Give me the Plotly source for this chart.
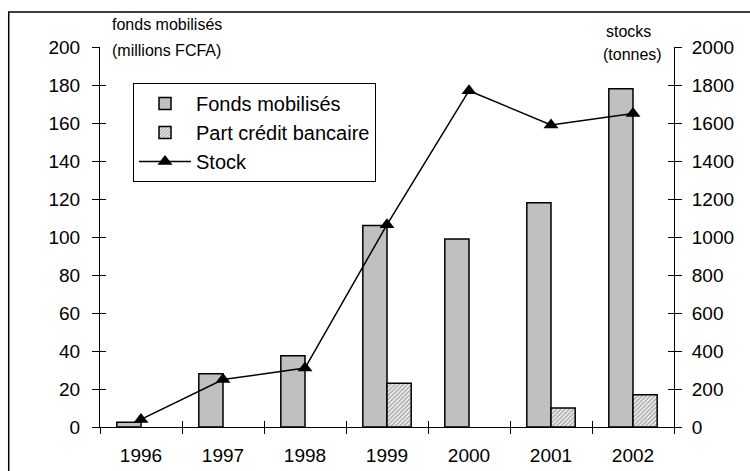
import plotly.graph_objects as go

years = ["1996", "1997", "1998", "1999", "2000", "2001", "2002"]
fonds = [2.5, 28, 37.5, 106, 99, 118, 178]
credit = [None, None, None, 23, None, 10, 17]
stock = [40, 250, 310, 1065, 1770, 1590, 1650]

left_ticks = list(range(0, 201, 20))
right_ticks = list(range(0, 2001, 200))

FONT = "Liberation Sans, Arial, sans-serif"

fig = go.Figure()
fig.add_trace(go.Bar(
    x=years, y=fonds, name="Fonds mobilisés",
    marker=dict(color="#c0c0c0", line=dict(color="#000000", width=1.5)),
))
fig.add_trace(go.Bar(
    x=years, y=credit, name="Part crédit bancaire",
    marker=dict(color="#ffffff", line=dict(color="#000000", width=1.5),
                pattern=dict(shape="/", fgcolor="#606060", bgcolor="#ffffff",
                             size=3, solidity=0.6)),
))
fig.add_trace(go.Scatter(
    x=years, y=stock, name="Stock", yaxis="y2", mode="lines+markers",
    line=dict(color="#000000", width=1.5),
    marker=dict(symbol="triangle-up", size=13, color="#000000"),
))

axis_common = dict(showgrid=False, zeroline=False, linecolor="#000000", linewidth=1,
                   tickcolor="#000000", tickwidth=1, automargin=False,
                   tickfont=dict(family=FONT, size=19, color="#000000"))

fig.update_layout(
    width=750, height=471,
    margin=dict(l=100, r=76, t=47, b=44),
    paper_bgcolor="#ffffff", plot_bgcolor="#ffffff",
    barmode="group", bargap=0.41, bargroupgap=0,
    showlegend=True,
    legend=dict(x=0.0575, y=0.905, xanchor="left", yanchor="top",
                bgcolor="#ffffff", bordercolor="#000000", borderwidth=1,
                font=dict(family=FONT, size=20, color="#000000"),
                tracegroupgap=0, itemwidth=52),
    xaxis=dict(**axis_common, type="category", categoryorder="array", categoryarray=years,
               tickson="boundaries", ticks="outside", ticklen=6, showline=True,
               ticklabelstandoff=11),
    xaxis2=dict(overlaying="x", anchor="y", side="bottom", range=[-0.5, 6.5],
                tickvals=[i - 0.5 for i in range(8)], ticks="inside", ticklen=6,
                tickcolor="#000000", showticklabels=False, showgrid=False,
                zeroline=False, showline=False, automargin=False),
    yaxis=dict(**axis_common, range=[0, 200], tickvals=left_ticks, ticks="outside",
               ticklen=7, showline=True, ticklabelstandoff=8),
    yaxis2=dict(**axis_common, range=[0, 2000], tickvals=right_ticks, ticks="outside",
                ticklen=7, showline=True, overlaying="y", side="right",
                ticklabelstandoff=6),
    yaxis3=dict(overlaying="y", side="left", anchor="x", range=[0, 200], tickvals=left_ticks,
                ticks="inside", ticklen=6, tickcolor="#000000", showticklabels=False,
                showgrid=False, zeroline=False, showline=False, automargin=False),
    yaxis4=dict(overlaying="y", side="right", anchor="x", range=[0, 2000],
                tickvals=right_ticks, ticks="inside", ticklen=6, tickcolor="#000000",
                showticklabels=False, showgrid=False, zeroline=False, showline=False,
                automargin=False),
)

# invisible helper traces so overlay axes are drawn
fig.add_trace(go.Scatter(x=[0], y=[0], xaxis="x2", yaxis="y3", mode="markers",
                         marker=dict(opacity=0), showlegend=False, hoverinfo="skip"))
fig.add_trace(go.Scatter(x=[0], y=[0], xaxis="x2", yaxis="y4", mode="markers",
                         marker=dict(opacity=0), showlegend=False, hoverinfo="skip"))

fig.add_shape(type="rect", xref="paper", yref="paper", x0=-0.159, x1=1.2, y0=-0.2, y1=1.092,
              line=dict(color="#000000", width=1.5), fillcolor="rgba(0,0,0,0)", layer="below")

tfont = dict(family=FONT, size=16, color="#000000")
fig.add_annotation(text="fonds mobilisés", xref="paper", yref="paper", x=0.017, y=1.06,
                   xanchor="left", yanchor="middle", showarrow=False, font=tfont)
fig.add_annotation(text="(millions FCFA)", xref="paper", yref="paper", x=0.017, y=0.99,
                   xanchor="left", yanchor="middle", showarrow=False, font=tfont)
fig.add_annotation(text="stocks", xref="paper", yref="paper", x=0.92, y=1.04,
                   xanchor="center", yanchor="middle", showarrow=False, font=tfont)
fig.add_annotation(text="(tonnes)", xref="paper", yref="paper", x=0.982, y=0.979,
                   xanchor="right", yanchor="middle", showarrow=False, font=tfont)

fig.write_html("out.html", config={"displayModeBar": False},
               post_script="document.body.style.margin='0';document.body.style.overflow='hidden';")
